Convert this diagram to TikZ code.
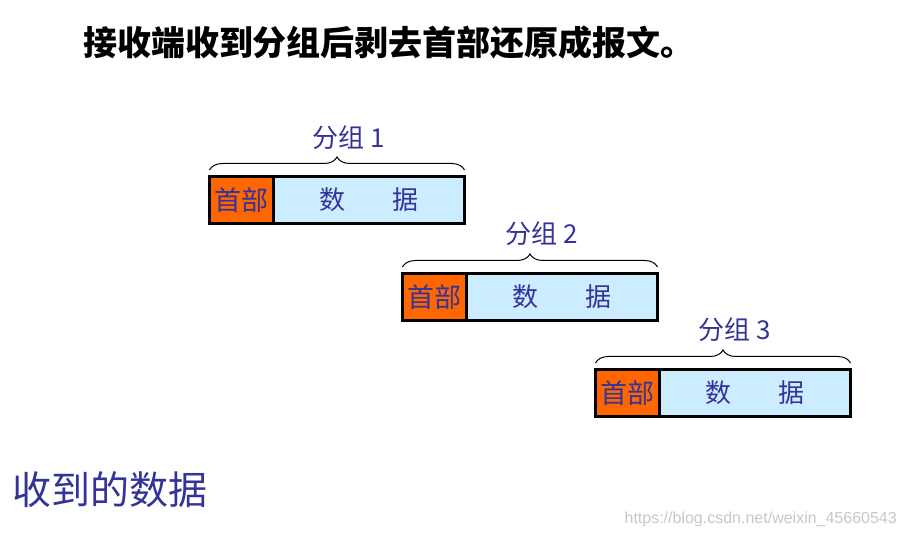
\documentclass[tikz,border=0pt]{standalone}
\usepackage{fontspec}
\setmainfont{Noto Sans CJK SC}
\newfontfamily\wmfont{Liberation Sans}
\usetikzlibrary{decorations.pathreplacing,calc}
\definecolor{hdr}{HTML}{FF6600}
\definecolor{dat}{HTML}{CCECFF}
\definecolor{ink}{HTML}{333399}
\begin{document}
\begin{tikzpicture}[x=1pt,y=-1pt,
  hdrbox/.style={draw=black, line width=3pt, fill=hdr, minimum width=63.5pt, minimum height=47pt,
    inner sep=0pt, outer sep=0pt, anchor=north west, text=ink, font=\fontsize{27}{27}\selectfont},
  datbox/.style={draw=black, line width=3pt, fill=dat, minimum width=191.5pt, minimum height=47pt,
    inner sep=0pt, outer sep=0pt, anchor=west, text=ink, font=\fontsize{26}{26}\selectfont},
  grpbrace/.style={decorate, decoration={brace, amplitude=13pt}, line width=1pt},
  grplabel/.style={text=ink, font=\fontsize{26}{26}\selectfont, inner sep=0pt}]
\useasboundingbox (0,0) rectangle (906,537);
\node[font=\fontsize{34}{34}\selectfont\bfseries, inner sep=0pt] (title) at (389,43) {接收端收到分组后剥去首部还原成报文。};
% packets
\node[hdrbox] (h1) at (209.5,176.5) {首部};
\node[datbox] (d1) at (h1.east) {数\hspace{1.8em}据};
\node[hdrbox] (h2) at (402.5,273.5) {首部};
\node[datbox] (d2) at (h2.east) {数\hspace{1.8em}据};
\node[hdrbox] (h3) at (595.5,369.5) {首部};
\node[datbox] (d3) at (h3.east) {数\hspace{1.8em}据};
% braces
\draw[grpbrace] ($(h1.north west)+(0,-6.5)$) -- ($(d1.north east)+(0,-6.5)$);
\draw[grpbrace] ($(h2.north west)+(0,-6.5)$) -- ($(d2.north east)+(0,-6.5)$);
\draw[grpbrace] ($(h3.north west)+(0,-6.5)$) -- ($(d3.north east)+(0,-6.5)$);
\node[grplabel] (g1) at (349,138) {分组 1};
\node[grplabel] (g2) at (542,234) {分组 2};
\node[grplabel] (g3) at (735,330) {分组 3};
\node[text=ink, font=\fontsize{39}{39}\selectfont, inner sep=0pt, anchor=west] (recv) at (12,490) {收到的数据};
\node[text=black!22, font=\wmfont\fontsize{16}{16}\selectfont, inner sep=0pt, anchor=east] (wm) at (897,519) {https://blog.csdn.net/weixin\_45660543};
\end{tikzpicture}
\end{document}
